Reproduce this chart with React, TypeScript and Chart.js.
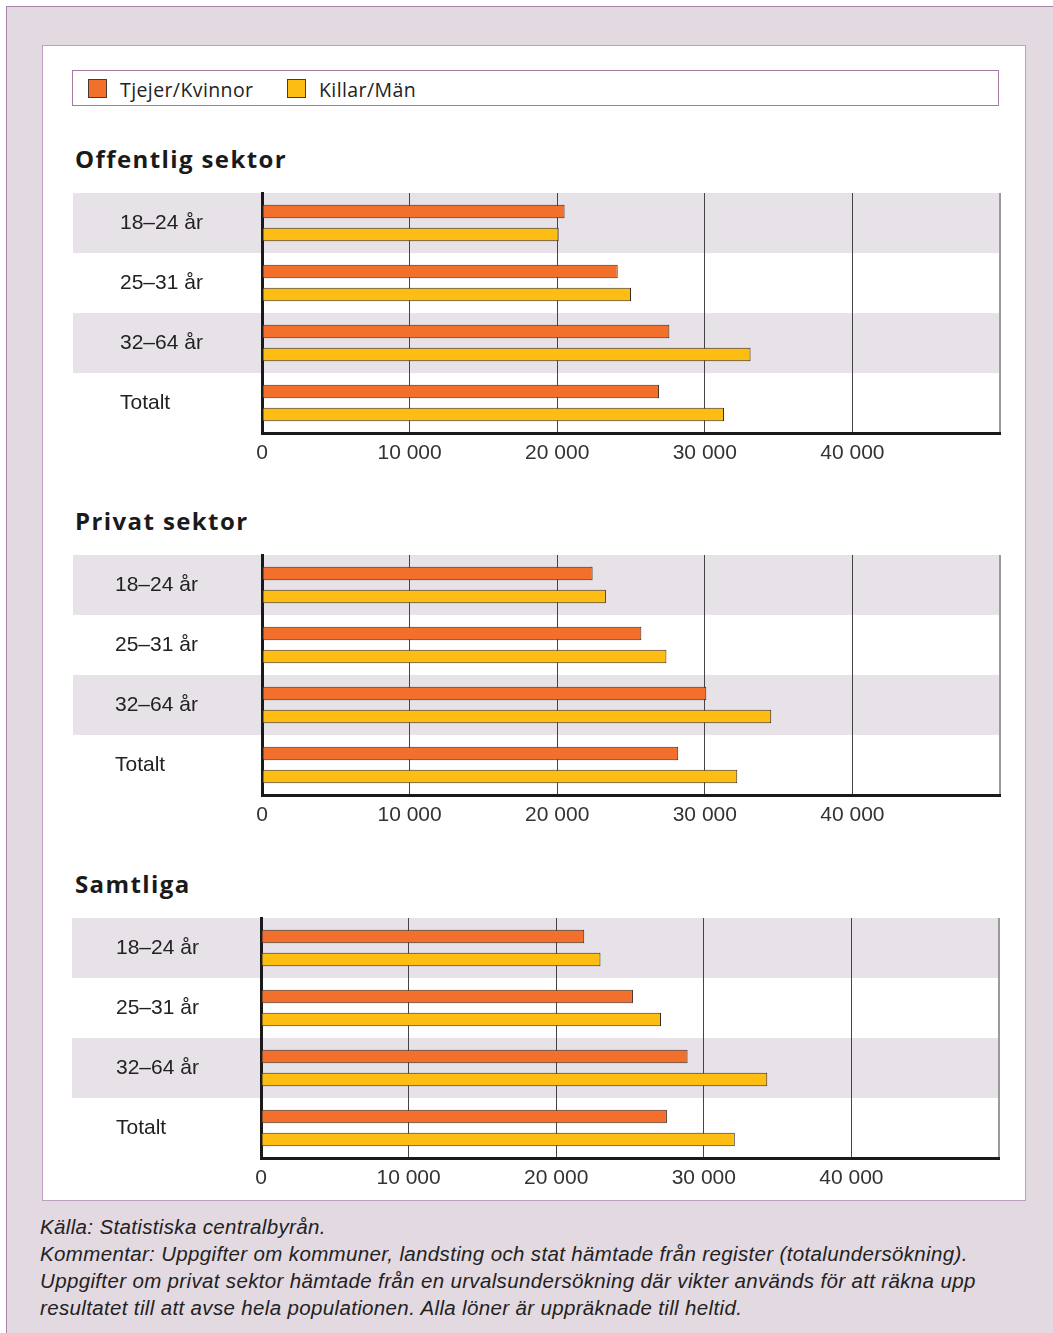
import React, { useEffect, useRef } from 'react';
import { Chart, registerables } from 'chart.js';
Chart.register(...registerables);

const categories = ['18–24 år', '25–31 år', '32–64 år', 'Totalt'];
const seriesNames = ['Tjejer/Kvinnor', 'Killar/Män'];
const seriesColors = ['#f26f2c', '#fdbd12'];
const sectionTitles = ['Offentlig sektor', 'Privat sektor', 'Samtliga'];

const offentligKvinnor = [20500, 24100, 27600, 26900];
const offentligMan = [20100, 25000, 33100, 31300];
const privatKvinnor = [22400, 25700, 30100, 28200];
const privatMan = [23300, 27400, 34500, 32200];
const samtligaKvinnor = [21900, 25200, 28900, 27500];
const samtligaMan = [23000, 27100, 34300, 32100];

const xMin = 0;
const xMax = 50000;
const xStep = 10000;
const hiddenTickValues = [50000];

const footnoteLines = [
  'Källa: Statistiska centralbyrån.',
  'Kommentar: Uppgifter om kommuner, landsting och stat hämtade från register (totalundersökning).',
  'Uppgifter om privat sektor hämtade från en urvalsundersökning där vikter används för att räkna upp',
  'resultatet till att avse hela populationen. Alla löner är uppräknade till heltid.',
];

const sections = [
  { title: sectionTitles[0], kvinnor: offentligKvinnor, man: offentligMan },
  { title: sectionTitles[1], kvinnor: privatKvinnor, man: privatMan },
  { title: sectionTitles[2], kvinnor: samtligaKvinnor, man: samtligaMan },
];

const layoutSpec = [
  { left: 73, top: 188, padLeft: 47 },
  { left: 73, top: 550, padLeft: 42 },
  { left: 72, top: 913, padLeft: 44 },
];

const CANVAS_W = 930;
const CANVAS_H = 282;
const AXIS_OFFSET = 189; // canvas left edge to plot area left edge

function formatTick(v: number): string {
  if (hiddenTickValues.includes(v)) return '';
  const s = String(Math.round(v));
  return s.replace(/\B(?=(\d{3})+(?!\d))/g, ' ');
}

const bandPlugin = {
  id: 'bands',
  beforeDraw(chart: any) {
    const { ctx, chartArea, scales } = chart;
    const y = scales.y;
    const n = chart.data.labels.length;
    const h = (chartArea.bottom - chartArea.top) / n;
    ctx.save();
    ctx.fillStyle = '#e7e2e7';
    for (let i = 0; i < n; i += 2) {
      const c = y.getPixelForValue(i);
      ctx.fillRect(0, c - h / 2, chartArea.right, h);
    }
    ctx.restore();
  },
};

function BarSection({ kvinnor, man, padLeft }: { kvinnor: number[]; man: number[]; padLeft: number }) {
  const ref = useRef<HTMLCanvasElement | null>(null);
  useEffect(() => {
    if (!ref.current) return;
    const chart = new Chart(ref.current, {
      type: 'bar',
      data: {
        labels: categories,
        datasets: [
          {
            label: seriesNames[0],
            data: kvinnor,
            backgroundColor: seriesColors[0],
            borderColor: '#3a2a22',
            borderWidth: 1,
            borderSkipped: false,
            categoryPercentage: 0.7667,
            barPercentage: 0.58,
          },
          {
            label: seriesNames[1],
            data: man,
            backgroundColor: seriesColors[1],
            borderColor: '#3a2a22',
            borderWidth: 1,
            borderSkipped: false,
            categoryPercentage: 0.7667,
            barPercentage: 0.58,
          },
        ],
      },
      options: {
        indexAxis: 'y',
        responsive: false,
        animation: false,
        layout: { padding: { left: padLeft, top: 5, right: 3, bottom: 0 } },
        plugins: { legend: { display: false }, tooltip: { enabled: false } },
        scales: {
          x: {
            type: 'linear',
            min: xMin,
            max: xMax,
            afterFit: (s: any) => { s.height = 37; s.paddingLeft = 0; s.paddingRight = 0; },
            ticks: {
              stepSize: xStep,
              padding: 8,
              color: '#333',
              font: { family: '"Liberation Sans", Arial, sans-serif', size: 21 },
              callback: (v: any) => formatTick(Number(v)),
              maxRotation: 0,
            },
            grid: {
              drawTicks: false,
              color: (c: any) => {
                const v = c.tick ? c.tick.value : 0;
                if (v === xMin) return 'rgba(0,0,0,0)';
                if (v === xMax) return '#9a9a9a';
                return '#444';
              },
              lineWidth: (c: any) => (c.tick && c.tick.value === xMax ? 2 : 1),
            },
            border: { display: true, color: '#1a1a1a', width: 3 },
          },
          y: {
            type: 'category',
            afterFit: (s: any) => { s.width = AXIS_OFFSET - padLeft; s.paddingTop = 0; s.paddingBottom = 0; },
            ticks: {
              crossAlign: 'far',
              color: '#222',
              font: { family: '"Liberation Sans", Arial, sans-serif', size: 21 },
            },
            grid: { display: false, drawTicks: false },
            border: { display: true, color: '#1a1a1a', width: 3 },
          },
        },
      },
      plugins: [bandPlugin],
    } as any);
    return () => chart.destroy();
  }, [kvinnor, man, padLeft]);
  return <canvas ref={ref} width={CANVAS_W} height={CANVAS_H} style={{ width: CANVAS_W, height: CANVAS_H, display: 'block' }} />;
}

export default function App() {
  const titleFont = '"Open Sans", "DejaVu Sans", sans-serif';
  return (
    <div style={{ position: 'absolute', left: 0, top: 0, width: 1053, height: 1333, background: '#ffffff', overflow: 'hidden' }}>
      <div
        style={{
          position: 'absolute', left: 6, top: 6, width: 1047, height: 1327,
          background: '#e2d9e1', borderLeft: '1px solid #a884a8', borderTop: '1px solid #a884a8', boxSizing: 'border-box',
        }}
      />
      <div
        style={{
          position: 'absolute', left: 42, top: 45, width: 984, height: 1156,
          background: '#ffffff', border: '1px solid #bf9fbf', boxSizing: 'border-box',
        }}
      />
      <div
        style={{
          position: 'absolute', left: 72, top: 70, width: 927, height: 36,
          background: '#ffffff', border: '1px solid #a47aa4', boxSizing: 'border-box',
        }}
      >
        {seriesNames.map((name, i) => (
          <div key={name} style={{ position: 'absolute', left: i === 0 ? 15 : 214, top: 7, display: 'flex', alignItems: 'center' }}>
            <div style={{ width: 19, height: 19, background: seriesColors[i], border: '1px solid #4a3a30', boxSizing: 'border-box' }} />
            <span style={{ marginLeft: 13, fontFamily: titleFont, fontSize: 19.5, letterSpacing: 0.4, color: '#222', lineHeight: '20px', position: 'relative', top: 2 }}>{name}</span>
          </div>
        ))}
      </div>
      {sections.map((s, i) => (
        <React.Fragment key={s.title}>
          <div
            style={{
              position: 'absolute', left: 75, top: layoutSpec[i].top - 43, fontFamily: titleFont, fontWeight: 700,
              fontSize: 24, lineHeight: '28px', color: '#1a1a1a', letterSpacing: 1.4,
            }}
          >
            {s.title}
          </div>
          <div style={{ position: 'absolute', left: layoutSpec[i].left, top: layoutSpec[i].top }}>
            <BarSection kvinnor={s.kvinnor} man={s.man} padLeft={layoutSpec[i].padLeft} />
          </div>
        </React.Fragment>
      ))}
      <div
        style={{
          position: 'absolute', left: 40, top: 1213, fontFamily: '"Liberation Sans", Arial, sans-serif', fontStyle: 'italic',
          fontSize: 20.5, letterSpacing: 0.35, lineHeight: '27px', color: '#222', whiteSpace: 'nowrap',
        }}
      >
        {footnoteLines.map((l) => (
          <div key={l}>{l}</div>
        ))}
      </div>
    </div>
  );
}
